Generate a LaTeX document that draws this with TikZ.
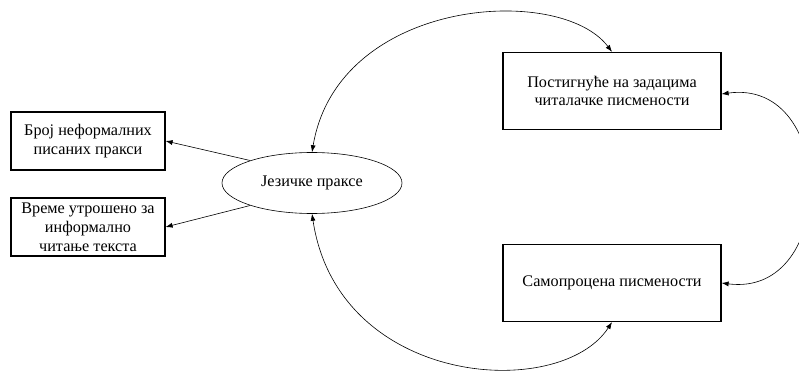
\documentclass[tikz,border=0pt]{standalone}
\usepackage{fontspec}
\setmainfont{Liberation Serif}
\usetikzlibrary{arrows.meta,shapes.geometric}
\begin{document}
\begin{tikzpicture}[x=1pt, y=1pt, >={Latex[length=7pt,width=5pt]},
  font=\rmfamily\fontsize{16.2}{18.8}\selectfont]
\tikzstyle{smallbox}=[draw,line width=1.2pt,align=center,minimum width=154pt,minimum height=58pt,inner sep=2pt]
\tikzstyle{bigbox}=[draw,line width=1.2pt,align=center,minimum width=218pt,minimum height=77pt]
\tikzstyle{link}=[line width=0.6pt]
  \useasboundingbox (0,0) rectangle (799,370);
  \node[draw,ellipse,line width=0.6pt,minimum width=180pt,minimum height=61pt,inner sep=1pt] (jez) at (312,187) {Језичке праксе};
  \foreach \place/\name/\txt in {{(88,229)/broj/Број неформалних\\писаних пракси},
                                 {(88,143)/vreme/Време утрошено за\\информално\\читање текста}}
    \node[smallbox] (\name) at \place {\txt};
  \foreach \place/\name/\txt in {{(612,279)/post/Постигнуће на задацима\\читалачке писмености},
                                 {(612,87)/samo/Самопроцена писмености}}
    \node[bigbox] (\name) at \place {\txt};
  \foreach \source/\dest in {jez.160/broj.east,jez.200/vreme.east}
      \path[link,->] (\source) edge (\dest);
  \draw[link,<->] (jez.north) .. controls (338,372) and (560,387) .. (post.north);
  \draw[link,<->] (jez.south) .. controls (338,-17) and (560,-32) .. (samo.south);
  \draw[link,<->] ([yshift=-3pt]post.east) .. controls (838,292) and (838,72) .. (samo.east);
\end{tikzpicture}
\end{document}
